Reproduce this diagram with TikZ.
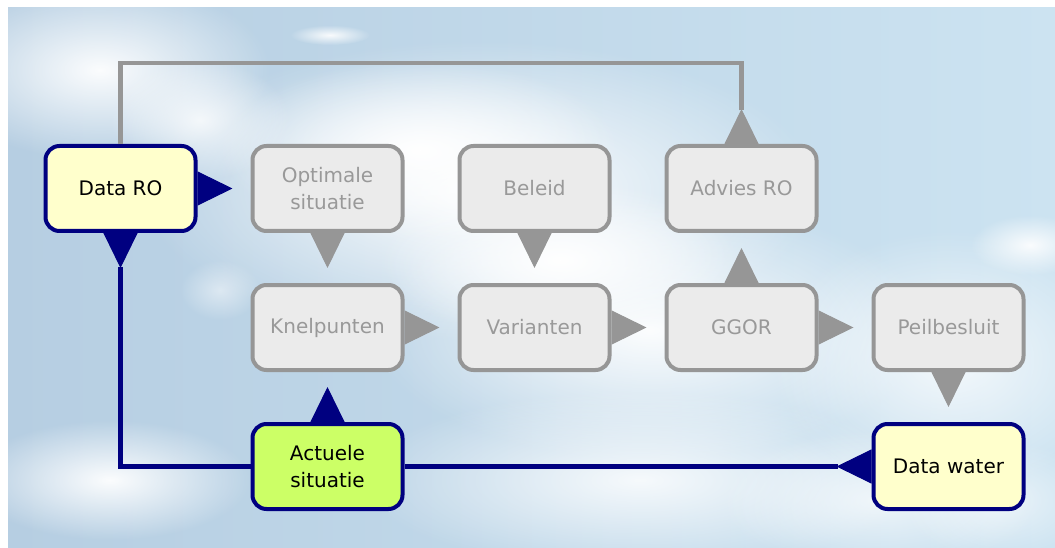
\documentclass[tikz,border=0pt]{standalone}
\usepackage{fontspec}
\setmainfont{DejaVu Sans}
\usetikzlibrary{arrows.meta,positioning,fadings}

\definecolor{navy}{RGB}{0,0,128}
\definecolor{greyline}{RGB}{150,150,150}
\definecolor{greyfill}{RGB}{235,235,235}
\definecolor{greytext}{RGB}{153,153,153}
\definecolor{paleyellow}{RGB}{255,255,204}
\definecolor{lime}{RGB}{204,255,102}
\definecolor{skyleft}{RGB}{182,206,226}
\definecolor{skyright}{RGB}{204,227,241}

\tikzfading[name=puff,inner color=transparent!0,outer color=transparent!100]

\tikzset{
  box/.style={rectangle,rounded corners=14pt,line width=4pt,minimum width=150pt,
    minimum height=85pt,align=center,font=\fontsize{20}{27}\selectfont},
  greybox/.style={box,draw=greyline,fill=greyfill,text=greytext},
  bluebox/.style={box,draw=navy,fill=paleyellow},
  greyptr/.style={greyline,line width=1pt,-{Triangle[length=35pt,width=34pt]}},
  blueptr/.style={navy,line width=1pt,-{Triangle[length=35pt,width=34pt]}},
  wire/.style={line width=4.5pt,{Triangle[reversed,length=35pt,width=34pt,line width=1pt]}-}
}

\begin{document}
\begin{tikzpicture}[x=1pt,y=1pt,node distance=50pt and 53pt]
    \useasboundingbox (0,0) rectangle (1055,-548);
    % sky
    \shade[left color=skyleft,right color=skyright] (8,-8) rectangle (1055,-548);
    \begin{scope}
      \clip (8,-8) rectangle (1055,-548);
      \foreach \cx/\cy/\rx/\ry/\op in {480/190/340/150/1,420/150/200/90/1,
          650/330/280/130/0.95,560/260/180/80/1,100/70/170/90/0.95,200/120/90/60/0.8,
          330/35/40/10/0.9,950/360/180/130/0.8,1030/245/60/30/0.9,640/480/280/90/0.85,
          110/480/140/60/0.95,880/500/160/70/0.7,220/290/40/30/0.5,1000/500/100/60/0.6}
        \fill[white,path fading=puff,opacity=\op] (\cx,-\cy) ellipse ({\rx} and {\ry});
    \end{scope}

    \node[bluebox] (ro) at (120.5,-188.5) {Data RO};
    \node[greybox,right=of ro] (opt) {Optimale\\situatie};
    \node[greybox,right=of opt] (bel) {Beleid};
    \node[greybox,right=of bel] (adv) {Advies RO};
    \node[greybox,below=of opt] (kn) {Knelpunten};
    \node[greybox,below=of bel] (var) {Varianten};
    \node[greybox,below=of adv] (gg) {GGOR};
    \node[greybox,right=of gg] (pb) {Peilbesluit};
    \node[bluebox,fill=lime,below=of kn] (act) {Actuele\\situatie};
    \node[bluebox,below=of pb] (dw) {Data water};

    \draw[blueptr,shorten >=18pt] (ro) -- (opt);
    \draw[greyptr,shorten >=15pt] (opt) -- (kn);
    \draw[greyptr,shorten >=15pt] (bel) -- (var);
    \draw[greyptr,shorten >=18pt] (kn) -- (var);
    \draw[greyptr,shorten >=18pt] (var) -- (gg);
    \draw[greyptr,shorten >=18pt] (gg) -- (pb);
    \draw[greyptr,shorten >=15pt] (gg) -- (adv);
    \draw[greyptr,shorten >=15pt] (pb) -- (dw);
    \draw[blueptr,shorten >=15pt] (act) -- (kn);

    \draw[wire,navy] (ro) |- (act);
    \draw[wire,navy] (dw) -- (act);
    \draw[wire,greyline] (adv.north) -- ++(0,81) -| (ro.north);
\end{tikzpicture}
\end{document}
